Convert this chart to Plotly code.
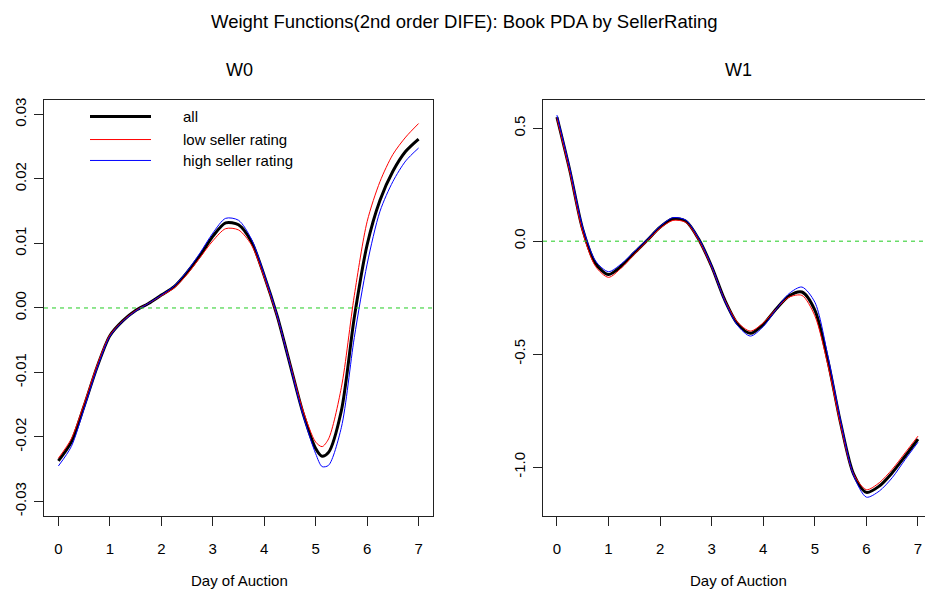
import plotly.graph_objects as go

# ---------------- data ----------------
day_w0 = [0, 0.25, 0.5, 0.75, 1.0, 1.25, 1.5, 1.75, 2.0, 2.25, 2.5, 2.75, 3.0, 3.25, 3.5,
          3.75, 4.0, 4.25, 4.5, 4.75, 5.0, 5.125, 5.25, 5.5, 5.75, 6.0, 6.25, 6.5, 6.75, 7.0]
w0_all = [-0.0237, -0.0208, -0.0152, -0.0092, -0.0043, -0.0020, -0.0004, 0.0007, 0.0020, 0.0033,
          0.0055, 0.0081, 0.0111, 0.0132, 0.0129, 0.0103, 0.0050, -0.0012, -0.0087, -0.0162,
          -0.0218, -0.0230, -0.0224, -0.0159, -0.0015, 0.0098, 0.0167, 0.0212, 0.0243, 0.0262]
w0_low = [-0.0233, -0.0203, -0.0148, -0.0089, -0.0042, -0.0020, -0.0004, 0.0007, 0.0019, 0.0031,
          0.0052, 0.0078, 0.0104, 0.0123, 0.0121, 0.0098, 0.0047, -0.0013, -0.0086, -0.0158,
          -0.0208, -0.0215, -0.0203, -0.0123, 0.0019, 0.0134, 0.0196, 0.0238, 0.0265, 0.0286]
w0_high = [-0.0245, -0.0215, -0.0156, -0.0094, -0.0044, -0.0021, -0.0005, 0.0007, 0.0020, 0.0034,
           0.0057, 0.0085, 0.0116, 0.0139, 0.0136, 0.0107, 0.0052, -0.0011, -0.0088, -0.0165,
           -0.0226, -0.0246, -0.0244, -0.0185, -0.0046, 0.0068, 0.0150, 0.0196, 0.0228, 0.0248]

day_w1 = [0, 0.25, 0.5, 0.75, 1.0, 1.25, 1.5, 1.75, 2.0, 2.25, 2.5, 2.75, 3.0, 3.25, 3.5,
          3.75, 4.0, 4.25, 4.5, 4.75, 5.0, 5.25, 5.5, 5.75, 6.0, 6.25, 6.5, 6.75, 7.0]
w1_all = [0.549, 0.313, 0.052, -0.099, -0.148, -0.110, -0.052, 0.004, 0.062, 0.099, 0.088, 0.008,
          -0.112, -0.258, -0.365, -0.408, -0.368, -0.300, -0.242, -0.225, -0.305, -0.525, -0.805,
          -1.030, -1.112, -1.084, -1.025, -0.952, -0.876]
w1_low = [0.544, 0.305, 0.040, -0.112, -0.160, -0.118, -0.058, 0.000, 0.057, 0.092, 0.083, 0.003,
          -0.115, -0.258, -0.358, -0.398, -0.362, -0.300, -0.248, -0.240, -0.330, -0.545, -0.815,
          -1.030, -1.100, -1.069, -1.010, -0.937, -0.863]
w1_high = [0.558, 0.322, 0.062, -0.088, -0.135, -0.100, -0.046, 0.008, 0.066, 0.104, 0.093, 0.012,
           -0.110, -0.262, -0.372, -0.420, -0.378, -0.302, -0.232, -0.203, -0.270, -0.505, -0.795,
           -1.035, -1.133, -1.106, -1.047, -0.967, -0.890]

x_ticks = [0, 1, 2, 3, 4, 5, 6, 7]
w0_ticks = [-0.03, -0.02, -0.01, 0.00, 0.01, 0.02, 0.03]
w0_ticklabels = ["-0.03", "-0.02", "-0.01", "0.00", "0.01", "0.02", "0.03"]
w1_ticks = [-1.0, -0.5, 0.0, 0.5]
w1_ticklabels = ["-1.0", "-0.5", "0.0", "0.5"]

series_names = ["all", "low seller rating", "high seller rating"]
series_colors = ["#000000", "#ff0000", "#0000ff"]
series_widths = [3, 1, 1]

main_title = "Weight Functions(2nd order DIFE): Book PDA by SellerRating"
panel_titles = ["W0", "W1"]
x_title = "Day of Auction"

# ---------------- figure ----------------
W, H = 925, 593
FONT = "Liberation Sans, Arial, Helvetica, sans-serif"

fig = go.Figure()

for ys, name, col, lw in zip([w0_all, w0_low, w0_high], series_names, series_colors, series_widths):
    fig.add_trace(go.Scatter(x=day_w0, y=ys, mode="lines", name=name,
                             line=dict(color=col, width=lw, shape="spline", smoothing=0.8),
                             xaxis="x", yaxis="y", showlegend=False))
for ys, name, col, lw in zip([w1_all, w1_low, w1_high], series_names, series_colors, series_widths):
    fig.add_trace(go.Scatter(x=day_w1, y=ys, mode="lines", name=name,
                             line=dict(color=col, width=lw, shape="spline", smoothing=0.8),
                             xaxis="x2", yaxis="y2", showlegend=False))

def px2x(p):
    return p / W

def py2y(p):
    return 1 - p / H

ydom = [py2y(516), py2y(98)]
axis_common = dict(showgrid=False, zeroline=False, showline=True, linecolor="#222222",
                   linewidth=1, ticks="outside", ticklen=9, tickcolor="#222222",
                   tickfont=dict(family=FONT, size=15, color="#000000"))

fig.update_layout(
    width=W, height=H, margin=dict(l=0, r=0, t=0, b=0),
    paper_bgcolor="white", plot_bgcolor="rgba(0,0,0,0)",
    xaxis=dict(domain=[px2x(44), px2x(433)], range=[-0.28, 7.28], anchor="y",
               tickvals=x_ticks, ticklabelstandoff=10, mirror=True, **axis_common),
    yaxis=dict(domain=ydom, range=[-0.0323, 0.0323], anchor="x",
               tickvals=w0_ticks, ticktext=w0_ticklabels, tickangle=-90,
               ticklabelstandoff=2, mirror=True, **axis_common),
    xaxis2=dict(domain=[px2x(543), 1.0], range=[-0.27, 7.136], anchor="y2",
                tickvals=x_ticks, ticklabelstandoff=10, mirror=True, **axis_common),
    yaxis2=dict(domain=ydom, range=[-1.2176, 0.6264], anchor="x2",
                tickvals=w1_ticks, ticktext=w1_ticklabels, tickangle=-90,
                ticklabelstandoff=2, mirror=False, **axis_common),
    font=dict(family=FONT, color="#000000"),
)

# zero reference lines (R abline(h=0, lty=2, col="green3"))
for xr, yr in [("x", "y"), ("x2", "y2")]:
    rng = fig.layout[xr.replace("x", "xaxis")].range
    fig.add_shape(type="line", xref=xr, yref=yr, x0=rng[0], x1=rng[1], y0=0, y1=0,
                  line=dict(color="#22cc22", width=1, dash="4px,4px"), layer="above")

# titles
fig.add_annotation(text=main_title, x=px2x(464), y=py2y(20), xref="paper", yref="paper",
                   showarrow=False, font=dict(family=FONT, size=18.5), xanchor="center", yanchor="middle")
for t, cx in zip(panel_titles, [239, 738]):
    fig.add_annotation(text=t, x=px2x(cx), y=py2y(68), xref="paper", yref="paper",
                       showarrow=False, font=dict(family=FONT, size=18), xanchor="center", yanchor="middle")
    fig.add_annotation(text=x_title, x=px2x(cx), y=py2y(580), xref="paper", yref="paper",
                       showarrow=False, font=dict(family=FONT, size=15), xanchor="center", yanchor="middle")

# legend (drawn manually, R style)
for i, (name, col, lw) in enumerate(zip(series_names, series_colors, series_widths)):
    yy = [115, 138, 159][i]
    fig.add_shape(type="line", xref="paper", yref="paper", x0=px2x(90), x1=px2x(151),
                  y0=py2y(yy), y1=py2y(yy), line=dict(color=col, width=lw))
    fig.add_annotation(text=name, x=px2x(181), y=py2y(yy), xref="paper", yref="paper",
                       showarrow=False, font=dict(family=FONT, size=15),
                       xanchor="left", yanchor="middle")

fig.write_html("out.html")
